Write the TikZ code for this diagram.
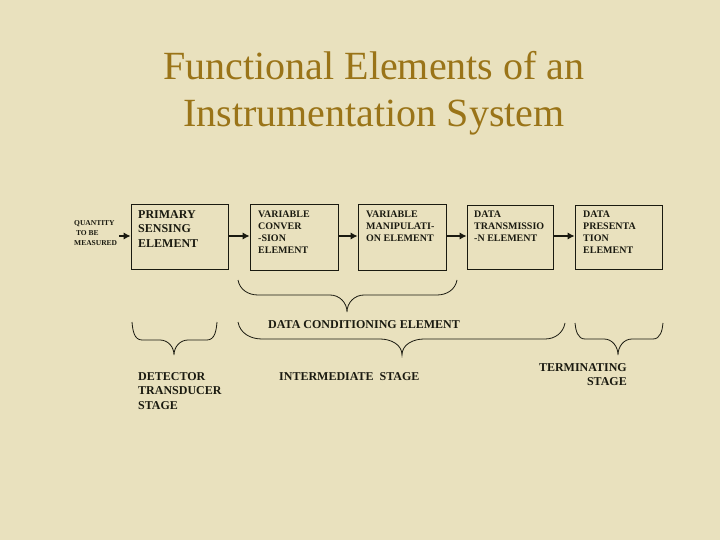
\documentclass[tikz,border=0pt]{standalone}
\usepackage{fontspec}
\setmainfont{Liberation Serif}
\usetikzlibrary{arrows.meta}
\definecolor{bg}{HTML}{E9E1BE}
\definecolor{titlec}{HTML}{9A7418}
\definecolor{ink}{HTML}{1A1A10}
\begin{document}
\begin{tikzpicture}[x=1pt,y=-1pt,
  blk/.style={draw=ink,line width=0.9pt,inner sep=0pt},
  lbl/.style={anchor=north west,inner sep=0pt,text=ink,font=\bfseries\fontsize{10}{12}\selectfont,align=left},
  big/.style={anchor=north west,inner sep=0pt,text=ink,font=\bfseries\fontsize{12}{14.5}\selectfont,align=left},
  arr/.style={draw=ink,line width=2.9pt,-{Latex[length=7pt,width=7.5pt]}},
  brc/.style={draw=ink,line width=0.8pt}]
\fill[bg] (0,0) rectangle (720,540);
\useasboundingbox (0,0) rectangle (720,540);
% title
\node[text=titlec,font=\fontsize{40}{47}\selectfont,align=center,inner sep=0pt] (title) at (374,93) {Functional Elements of an\\Instrumentation System};
% boxes
\node[blk,minimum width=97pt,minimum height=65pt] (b1) at (179.5,236.5) {};
\node[blk,minimum width=88pt,minimum height=66pt] (b2) at (294,237) {};
\node[blk,minimum width=88pt,minimum height=66pt] (b3) at (402,237) {};
\node[blk,minimum width=86pt,minimum height=64pt] (b4) at (510,237) {};
\node[blk,minimum width=87pt,minimum height=64pt] (b5) at (618.5,237) {};
% box texts
\node[big] (t1) at (138,210) {PRIMARY\\SENSING\\ELEMENT};
\node[lbl] (t2) at (258,210.5) {VARIABLE\\CONVER\\-SION\\ELEMENT};
\node[lbl] (t3) at (366,210.5) {VARIABLE\\MANIPULATI-\\ON ELEMENT};
\node[lbl] (t4) at (474,210.5) {DATA\\TRANSMISSIO\\-N ELEMENT};
\node[lbl] (t5) at (583,210.5) {DATA\\PRESENTA\\TION\\ELEMENT};
% input
\node[anchor=north west,inner sep=0pt,text=ink,font=\bfseries\fontsize{7.5}{10}\selectfont,align=left] (q) at (74,220) {QUANTITY\\\ TO BE\\MEASURED};
\coordinate (qin) at (119,236);
\draw[arr] (qin) -- (b1.west|-qin);
\draw[arr] (b1.east|-qin) -- (b2.west|-qin);
\draw[arr] (b2.east|-qin) -- (b3.west|-qin);
\draw[arr] (b3.east|-qin) -- (b4.west|-qin);
\draw[arr] (b4.east|-qin) -- (b5.west|-qin);
% top brace (data conditioning)
\draw[brc] (238,280) to[out=-80,in=180] (258,295) -- (330,295) to[out=0,in=90] (347,312)
  to[out=90,in=180] (364,295) -- (437,295) to[out=0,in=-100] (457,280);
\node[anchor=base,inner sep=0pt,text=ink,font=\bfseries\fontsize{12}{14}\selectfont] (dce) at (364,328) {DATA CONDITIONING ELEMENT};
% detector brace
\draw[brc] (132,322) to[out=-85,in=180] (142,340) -- (160,340) to[out=0,in=90] (174,355)
  to[out=90,in=180] (188,340) -- (207,340) to[out=0,in=-95] (217,322);
% intermediate brace
\draw[brc] (238,322) to[out=-80,in=180] (262,339) -- (380,339) to[out=0,in=90] (402,355)
  to[out=90,in=180] (424,339) -- (545,339) to[out=0,in=-100] (565,323);
% terminating brace
\draw[brc] (575,323) to[out=-85,in=180] (585,339) -- (604,339) to[out=0,in=90] (618,355)
  to[out=90,in=180] (632,339) -- (653,339) to[out=0,in=-95] (663,323);
% stage labels
\node[big,align=left] (det) at (138,372) {DETECTOR\\TRANSDUCER\\STAGE};
\node[big] (inter) at (279,372) {INTERMEDIATE\ \ STAGE};
\node[anchor=north east,inner sep=0pt,text=ink,font=\bfseries\fontsize{12}{14.5}\selectfont,align=right] (term) at (627,363) {TERMINATING\\STAGE};
\end{tikzpicture}
\end{document}
